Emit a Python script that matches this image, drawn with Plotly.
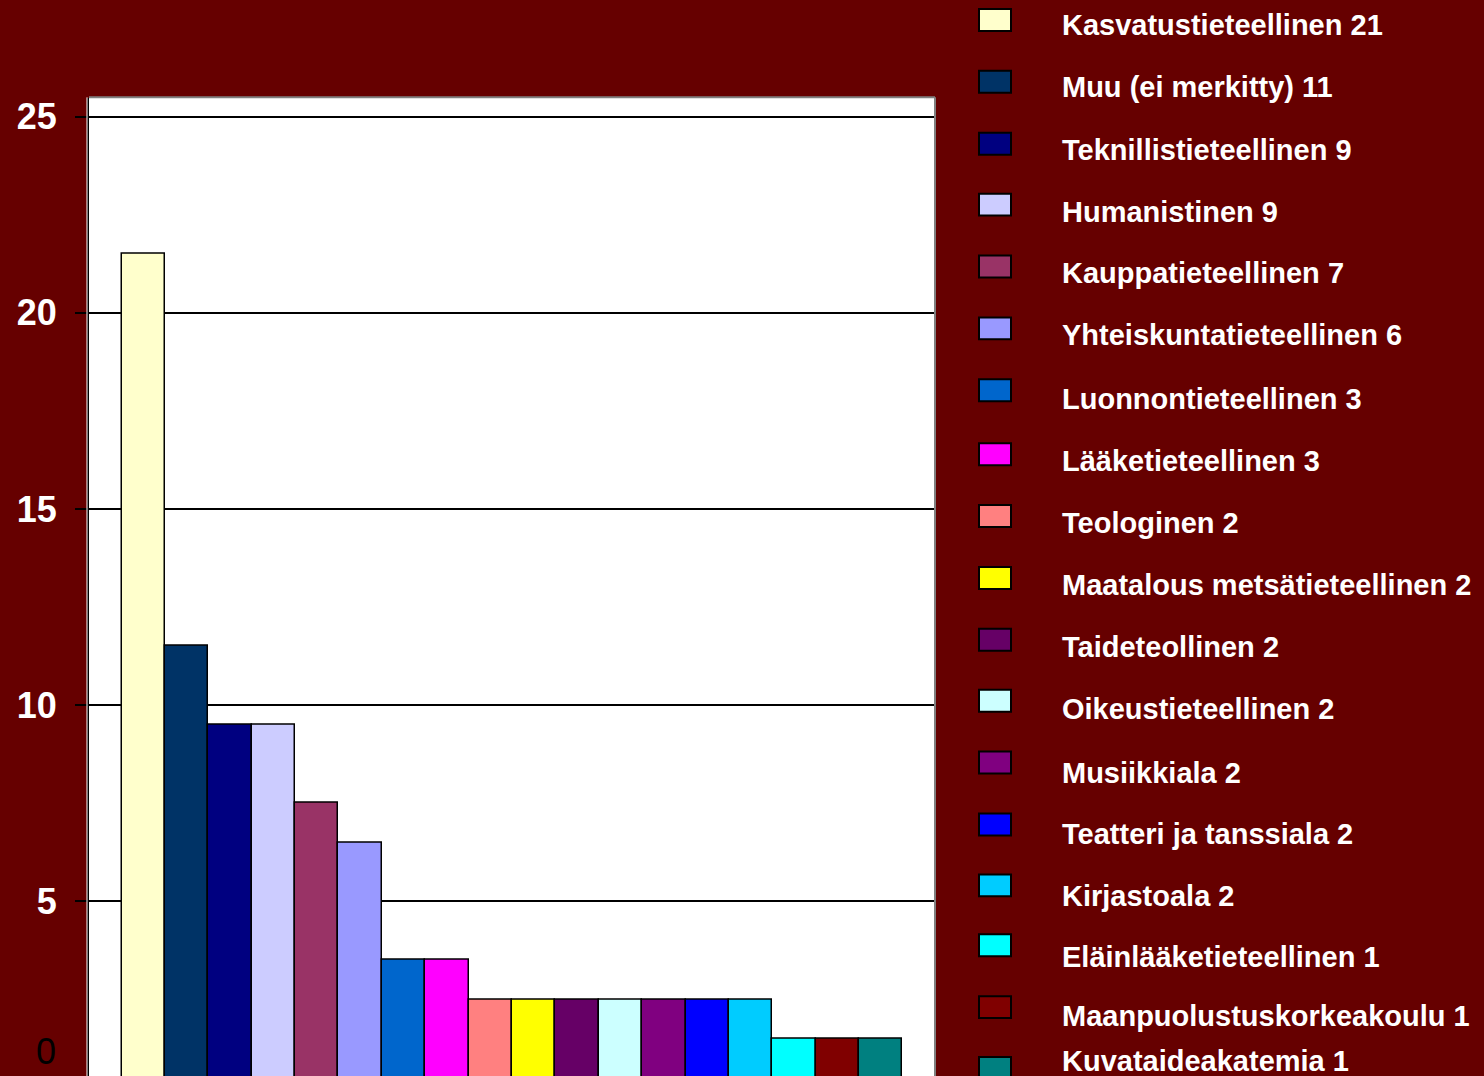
import plotly.graph_objects as go

# ---- data ----
fields = [
    "Kasvatustieteellinen", "Muu (ei merkitty)", "Teknillistieteellinen", "Humanistinen",
    "Kauppatieteellinen", "Yhteiskuntatieteellinen", "Luonnontieteellinen", "Lääketieteellinen",
    "Teologinen", "Maatalous metsätieteellinen", "Taideteollinen", "Oikeustieteellinen",
    "Musiikkiala", "Teatteri ja tanssiala", "Kirjastoala", "Eläinlääketieteellinen",
    "Maanpuolustuskorkeakoulu", "Kuvataideakatemia",
]
counts = [21, 11, 9, 9, 7, 6, 3, 3, 2, 2, 2, 2, 2, 2, 2, 1, 1, 1]
bar_heights = [21.5, 11.5, 9.5, 9.5, 7.5, 6.5, 3.5, 3.5, 2.5, 2.5, 2.5, 2.5, 2.5, 2.5, 2.5, 1.5, 1.5, 1.5]
colors = [
    "#FFFFCC", "#003366", "#000080", "#CCCCFF", "#993366", "#9999FF", "#0066CC", "#FF00FF",
    "#FF8080", "#FFFF00", "#660066", "#CCFFFF", "#800080", "#0000FF", "#00CCFF", "#00FFFF",
    "#800000", "#008080",
]
y_ticks = [0, 5, 10, 15, 20, 25]

# ---- layout constants ----
W, H = 1484, 1076
BG = "#660000"
FONT = "Liberation Sans, Arial, sans-serif"
px_x = lambda p: p / W
px_y = lambda p: 1 - p / H

fig = go.Figure()
fig.add_trace(go.Bar(
    x=fields, y=bar_heights,
    marker=dict(color=colors, line=dict(color="black", width=1.5)),
    showlegend=False, hoverinfo="x+y",
))

# legend drawn manually
text_y = [23, 85, 148, 210, 272, 334, 398, 460, 522, 584, 646, 708, 772, 834, 896, 957, 1016, 1061]
rect_y = [18, 80, 142, 203, 265, 327, 389, 453, 515, 577, 639, 700, 762, 824, 885, 945, 1007, 1068]
shapes = []
annotations = []
for name, cnt, col, ty, ry in zip(fields, counts, colors, text_y, rect_y):
    annotations.append(dict(
        x=px_x(1060), y=px_y(ty), xref="paper", yref="paper",
        xanchor="left", yanchor="middle", showarrow=False,
        text=f"{name} {cnt}",
        font=dict(family=FONT, size=29, color="white", weight="bold"),
    ))
    shapes.append(dict(
        type="rect", xref="paper", yref="paper",
        x0=px_x(979), x1=px_x(1011), y0=px_y(ry - 11), y1=px_y(ry + 11),
        fillcolor=col, line=dict(color="black", width=2), layer="above",
    ))

# plot border (grey top/right) and white line left of axis
shapes.append(dict(type="line", xref="paper", yref="paper",
                   x0=px_x(89), x1=px_x(935), y0=px_y(95.5), y1=px_y(95.5),
                   line=dict(color="#808080", width=2), layer="above"))
shapes.append(dict(type="line", xref="paper", yref="paper",
                   x0=px_x(935), x1=px_x(935), y0=px_y(95.5), y1=0,
                   line=dict(color="#808080", width=2), layer="above"))
shapes.append(dict(type="line", xref="paper", yref="paper",
                   x0=px_x(87), x1=px_x(87), y0=px_y(95.5), y1=0,
                   line=dict(color="white", width=1), layer="above"))

# stray "0" label
annotations.append(dict(
    x=px_x(46), y=px_y(1051), xref="paper", yref="paper",
    xanchor="center", yanchor="middle", showarrow=False, text="0",
    font=dict(family=FONT, size=36, color="black"),
))

fig.update_layout(
    width=W, height=H, autosize=False,
    margin=dict(l=0, r=0, t=0, b=0),
    paper_bgcolor=BG, plot_bgcolor="white",
    bargap=0,
    xaxis=dict(domain=[px_x(89), px_x(935)], range=[-1.25, 18.25],
               showticklabels=False, showgrid=False, zeroline=False, ticks=""),
    yaxis=dict(domain=[0, px_y(96)], range=[0.547, 25.48],
               tickvals=y_ticks, ticktext=[str(v) for v in y_ticks],
               showgrid=True, gridcolor="black", gridwidth=2,
               showline=True, linecolor="black", linewidth=2,
               ticks="outside", ticklen=12, tickcolor="black", tickwidth=2,
               ticklabelstandoff=11, zeroline=False,
               tickfont=dict(family=FONT, size=36, color="white", weight="bold")),
    shapes=shapes, annotations=annotations,
)

fig.write_html(
    "out.html",
    config={"displayModeBar": False},
    post_script="document.body.style.margin='0';document.body.style.overflow='hidden';",
)
